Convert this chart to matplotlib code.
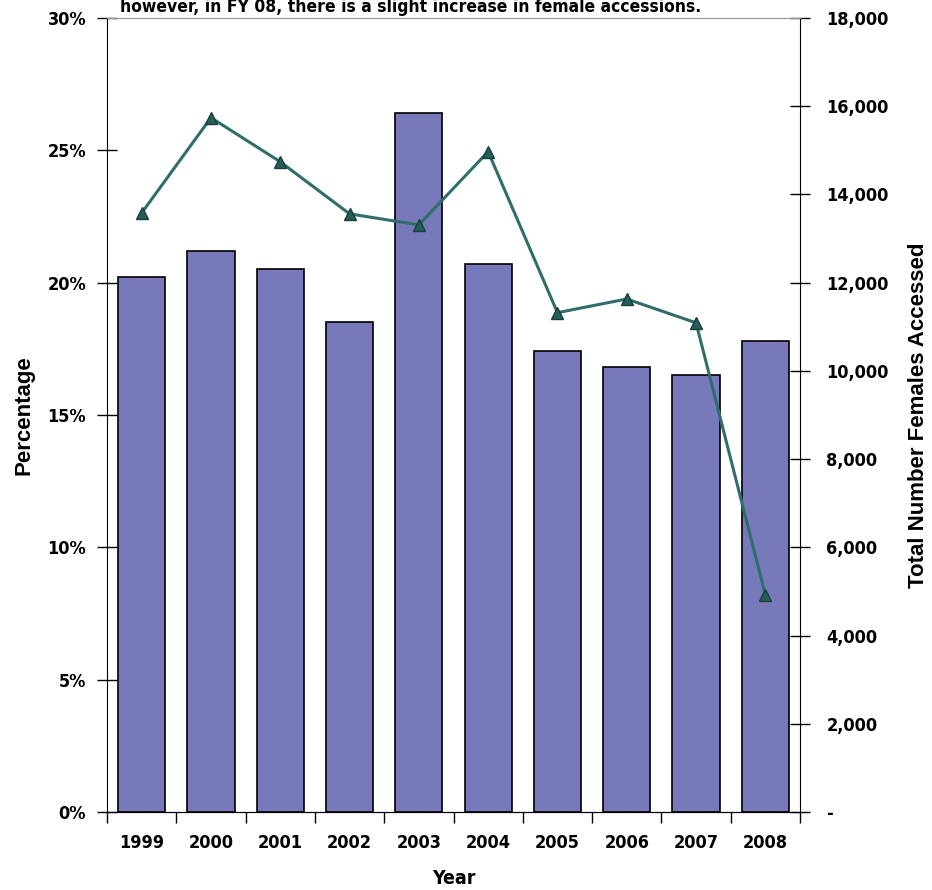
import matplotlib.pyplot as plt
import matplotlib.ticker as mticker
import numpy as np

years = ['1999', '2000', '2001', '2002', '2003', '2004', '2005', '2006', '2007', '2008']
pct_female = [20.2, 21.2, 20.5, 18.5, 26.4, 20.7, 17.4, 16.8, 16.5, 17.8]
total_females = [13580, 15740, 14740, 13560, 13310, 14970, 11320, 11630, 11090, 4920]

cond = dict(family='DejaVu Sans', fontstretch='condensed', fontweight='bold')

fig = plt.figure(figsize=(9.32, 8.90), dpi=100)
ax = fig.add_axes([107 / 932, 1 - 812 / 890, 693 / 932, 794 / 890])
x = np.arange(len(years))

ax.bar(x, pct_female, width=0.68, color='#7779bb', edgecolor='black', linewidth=1.2, zorder=2)
ax.set_xlim(-0.5, len(years) - 0.5)
ax.set_ylim(0, 30)
ax.yaxis.set_major_locator(mticker.MultipleLocator(5))
ax.yaxis.set_major_formatter(mticker.FuncFormatter(lambda v, p: '%d%%' % v))
ax.set_xticks(np.arange(-0.5, len(years), 1.0))
ax.set_xticklabels([])
ax.set_xticks(x, minor=True)
ax.set_xticklabels(years, minor=True)
ax.tick_params(axis='x', which='major', direction='out', length=8, width=1)
ax.tick_params(axis='x', which='minor', length=0, pad=16)
ax.tick_params(axis='y', direction='inout', length=14, width=1, pad=8)
for lab in ax.get_yticklabels() + ax.get_xticklabels(minor=True):
    lab.set(fontsize=13, **cond)
ax.spines['top'].set_color('#999999')
ax.spines['right'].set_visible(False)
ax.set_xlabel('Year', fontsize=14, labelpad=12, **cond)
ax.set_ylabel('Percentage', fontsize=16, fontweight='bold', family='Liberation Sans', labelpad=9)

ax2 = ax.twinx()
ax2.plot(x, total_females, color='#2f6e6a', linewidth=2.2, marker='^', markersize=8,
         markerfacecolor='#245e58', markeredgecolor='#1a3f3b', zorder=3)
ax2.set_ylim(0, 18000)
ax2.yaxis.set_major_locator(mticker.MultipleLocator(2000))
ax2.yaxis.set_major_formatter(mticker.FuncFormatter(lambda v, p: '-' if v == 0 else '{:,.0f}'.format(v)))
ax2.tick_params(axis='y', direction='inout', length=14, width=1, pad=12)
for lab in ax2.get_yticklabels():
    lab.set(fontsize=13, **cond)
ax2.spines['top'].set_color('#999999')
ax2.spines['left'].set_visible(False)
ax2.set_ylabel('Total Number Females Accessed', fontsize=16, fontweight='bold',
               family='Liberation Sans', labelpad=14)

fig.text(120 / 932, 1 - 12 / 890, 'however, in FY 08, there is a slight increase in female accessions.',
         fontsize=12.5, ha='left', va='baseline', **cond)

fig.savefig('out.png', dpi=100)
